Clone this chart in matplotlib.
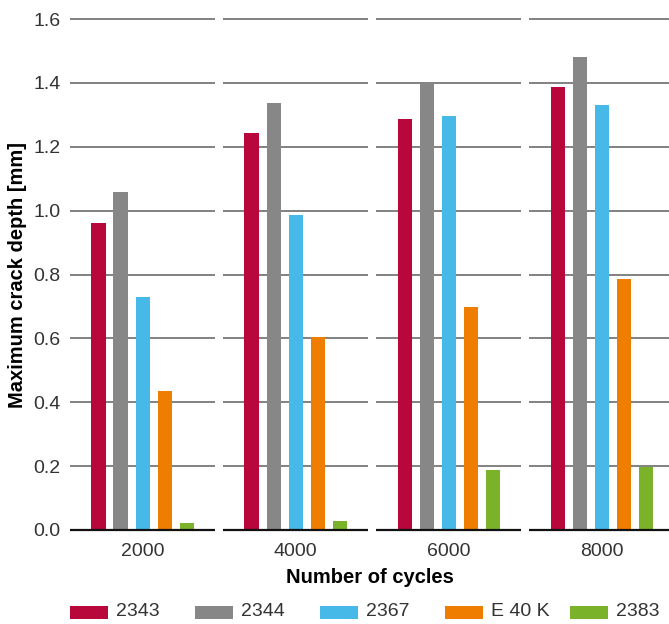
import numpy as np
import matplotlib
matplotlib.use("Agg")
import matplotlib.pyplot as plt
from matplotlib.patches import Rectangle

plt.rcParams['font.family'] = ['Liberation Sans', 'DejaVu Sans']

cycles = ['2000', '4000', '6000', '8000']
materials = ['2343', '2344', '2367', 'E 40 K', '2383']
colors = ['#b8073a', '#878787', '#46b9e9', '#ef7d00', '#7ab32a']

depth_2343 = [0.962, 1.244, 1.286, 1.386]
depth_2344 = [1.059, 1.338, 1.401, 1.481]
depth_2367 = [0.730, 0.985, 1.297, 1.331]
depth_e40k = [0.434, 0.605, 0.699, 0.787]
depth_2383 = [0.022, 0.028, 0.187, 0.198]
series = [depth_2343, depth_2344, depth_2367, depth_e40k, depth_2383]

yticks = [0.0, 0.2, 0.4, 0.6, 0.8, 1.0, 1.2, 1.4, 1.6]

W, H = 669, 624
fig = plt.figure(figsize=(W / 100, H / 100), dpi=100)
ax = fig.add_axes([70 / W, 1 - 530 / H, 1 - 70 / W, (530 - 19) / H])

x = np.arange(len(cycles))
half = 0.474          # half width of a group segment
step = 0.144          # bar spacing inside group
bw = 0.092

# segmented grid lines, one piece per group
for yv in yticks:
    col, lw = ('#111111', 1.6) if yv == 0 else ('#777777', 1.3)
    ax.hlines([yv] * len(x), x - half, x + half, colors=col, linewidth=lw,
              zorder=1 if yv else 3, clip_on=False)

for i, (vals, c) in enumerate(zip(series, colors)):
    ax.bar(x + (i - 2) * step, vals, width=bw, color=c, zorder=2)

ax.set_xlim(-half, 3.44)
ax.set_ylim(0, 1.6)
for s in ax.spines.values():
    s.set_visible(False)

ax.set_yticks(yticks)
ax.set_yticklabels([f'{v:.1f}' for v in yticks])
ax.set_xticks(x)
ax.set_xticklabels(cycles)
ax.tick_params(length=0, labelsize=14, labelcolor='#333333')
ax.tick_params(axis='y', pad=7)
ax.tick_params(axis='x', pad=9)

ax.set_xlabel('Number of cycles', fontsize=14.5, fontweight='bold', labelpad=6)
ax.set_ylabel('Maximum crack depth [mm]', fontsize=14.5, fontweight='bold', labelpad=4)

# legend row at the bottom, fixed spacing like the original
for i, (name, c) in enumerate(zip(materials, colors)):
    x0 = 70 + i * 125
    fig.add_artist(Rectangle((x0 / W, 1 - 619 / H), 38 / W, 13 / H,
                             transform=fig.transFigure, facecolor=c, edgecolor='none'))
    fig.text((x0 + 46) / W, 1 - 612 / H, name, fontsize=14, color='#333333',
             va='center', ha='left')

fig.savefig('out.png', dpi=100)
